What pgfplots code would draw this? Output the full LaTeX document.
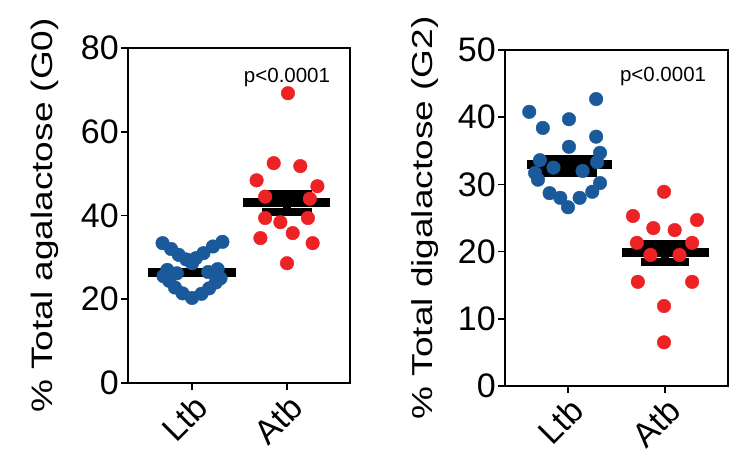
\documentclass[border=0pt]{standalone}
\usepackage{pgfplots}
\pgfplotsset{compat=1.18}
\usepackage{graphicx}
\usepackage{fontspec}
\setmainfont{Liberation Sans}
\definecolor{ltb}{RGB}{26,90,155}
\definecolor{atb}{RGB}{236,34,36}
\newcommand{\tickfont}{\fontsize{34bp}{34bp}\selectfont}
\newcommand{\labfont}{\fontsize{37bp}{37bp}\selectfont}
\newcommand{\pfont}{\fontsize{20.5bp}{20.5bp}\selectfont}

\pgfplotstableread{
x y
0.69 33.4
1.32 33.7
0.78 32.0
1.22 32.6
0.86 30.6
1.12 31.0
0.94 29.5
1.04 29.8
1.00 28.6
0.74 27.0
0.84 26.2
1.17 26.5
1.27 27.2
0.70 25.5
1.30 25.0
0.76 24.4
0.82 22.8
0.90 21.4
1.00 20.3
1.10 21.3
1.18 22.6
1.25 24.0
}\gzeroltb

\pgfplotstableread{
x y
2.01 69.2
1.86 52.5
2.14 51.8
1.68 48.4
2.32 47.0
1.77 44.5
2.24 44.0
1.77 39.4
1.93 38.4
2.22 39.4
2.06 35.8
1.72 34.6
2.27 33.4
2.00 28.6
}\gzeroatb

\pgfplotstableread{
x y
0.60 40.8
1.29 42.7
0.74 38.4
1.01 39.7
1.29 37.1
1.01 35.6
1.33 34.7
0.71 33.6
1.30 33.3
0.85 32.5
1.15 32.0
0.66 31.7
0.69 30.7
0.81 28.7
0.92 28.0
1.00 26.6
1.12 28.0
1.25 28.9
1.33 30.2
}\gtwoltb

\pgfplotstableread{
x y
1.99 28.9
1.67 25.3
2.33 24.7
1.88 23.5
2.10 23.2
1.71 21.3
2.28 21.3
1.85 19.5
2.15 19.5
1.72 15.5
2.28 15.5
1.99 11.9
1.99 6.5
}\gtwoatb

\pgfplotsset{
  myaxis/.style={
    scale only axis,
    anchor=south west,
    axis line style={line width=1.6bp, black},
    every tick/.style={line width=1.6bp, black},
    tick align=outside,
    major tick length=7bp,
    xtick pos=bottom, ytick pos=left,
    xtick={1,2}, xticklabels={Ltb,Atb},
    xticklabel style={rotate=45, anchor=north east, font=\tickfont, inner sep=2bp},
    yticklabel style={font=\tickfont, inner sep=2bp},
    /pgf/number format/assume math mode=true,
    clip=false,
    ylabel style={font=\labfont, anchor=base},
  },
  ltbdots/.style={only marks, mark=*, mark size=6.8bp, mark options={draw=ltb, fill=ltb}},
  atbdots/.style={only marks, mark=*, mark size=6.8bp, mark options={draw=atb, fill=atb}},
  meanbar/.style={black, line width=9bp, line cap=butt, mark=none},
}

\begin{document}
\begin{tikzpicture}
\begin{axis}[myaxis,
  at={(128bp,71bp)}, width=222bp, height=335bp,
  xmin=0.326, xmax=2.663, ymin=0, ymax=80,
  ytick={0,20,40,60,80},
  ylabel={\scalebox{1}[0.8]{\% Total agalactose (G0)}},
  ylabel style={at={(axis description cs:-0.342,0.5)}},
]
\addplot[ltbdots] table {\gzeroltb};
\addplot[atbdots] table {\gzeroatb};
\addplot[meanbar] coordinates {(0.537,26.3) (1.463,26.3)};
\addplot[meanbar] coordinates {(1.537,43.0) (2.453,43.0)};
\addplot[black, mark=none, draw=none, error bars/.cd, y dir=both, y explicit,
  error bar style={line width=8bp, black},
  error mark options={line width=8bp, mark size=25bp, black, rotate=90}]
  coordinates {(2,43.0) +- (0,2.2)};
\node[font=\pfont] at (axis cs:2,73) {p<0.0001};
\end{axis}

\begin{axis}[myaxis,
  at={(505bp,68bp)}, width=223bp, height=336bp,
  xmin=0.35, xmax=2.65, ymin=0, ymax=50,
  ytick={0,10,20,30,40,50},
  ylabel={\scalebox{1}[0.78]{\% Total digalactose (G2)}},
  ylabel style={at={(axis description cs:-0.323,0.5)}},
]
\addplot[ltbdots] table {\gtwoltb};
\addplot[atbdots] table {\gtwoatb};
\addplot[meanbar] coordinates {(0.577,32.9) (1.454,32.9)};
\addplot[meanbar] coordinates {(1.557,19.9) (2.454,19.9)};
\addplot[black, mark=none, draw=none, error bars/.cd, y dir=both, y explicit,
  error bar style={line width=8bp, black},
  error mark options={line width=8bp, mark size=31bp, black, rotate=90}]
  coordinates {(0.98,32.8) +- (0,1.05)};
\addplot[black, mark=none, draw=none, error bars/.cd, y dir=both, y explicit,
  error bar style={line width=8bp, black},
  error mark options={line width=8bp, mark size=24bp, black, rotate=90}]
  coordinates {(2,19.8) +- (0,1.3)};
\node[font=\pfont] at (axis cs:1.98,46) {p<0.0001};
\end{axis}
\pgfresetboundingbox
\useasboundingbox (0,0) rectangle (732bp,454bp);
\end{tikzpicture}
\end{document}
